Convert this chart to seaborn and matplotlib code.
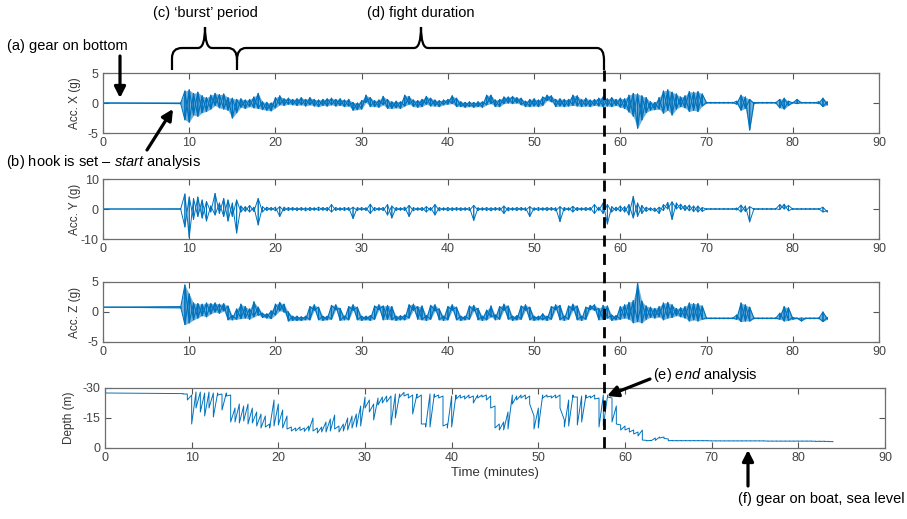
import matplotlib
matplotlib.use("Agg")
import matplotlib.pyplot as plt
import pandas as pd
import seaborn as sns
from matplotlib.lines import Line2D
from matplotlib.patches import FancyArrowPatch, PathPatch
from matplotlib.path import Path

sns.set_style("ticks")
plt.rcParams['font.family'] = ['Liberation Sans', 'DejaVu Sans']
plt.rcParams['mathtext.fontset'] = 'custom'
plt.rcParams['mathtext.rm'] = 'Liberation Sans'
plt.rcParams['mathtext.it'] = 'Liberation Sans:italic'
plt.rcParams['axes.unicode_minus'] = False

BLUE = '#0072BD'
W, H = 907, 519

# time of each half-minute bin (minutes); per bin the min/max
TIME = [0.0,
        9.0, 9.5, 10.0, 10.5, 11.0, 11.5, 12.0, 12.5, 13.0, 13.5,
        14.0, 14.5, 15.0, 15.5, 16.0, 16.5, 17.0, 17.5, 18.0, 18.5,
        19.0, 19.5, 20.0, 20.5, 21.0, 21.5, 22.0, 22.5, 23.0, 23.5,
        24.0, 24.5, 25.0, 25.5, 26.0, 26.5, 27.0, 27.5, 28.0, 28.5,
        29.0, 29.5, 30.0, 30.5, 31.0, 31.5, 32.0, 32.5, 33.0, 33.5,
        34.0, 34.5, 35.0, 35.5, 36.0, 36.5, 37.0, 37.5, 38.0, 38.5,
        39.0, 39.5, 40.0, 40.5, 41.0, 41.5, 42.0, 42.5, 43.0, 43.5,
        44.0, 44.5, 45.0, 45.5, 46.0, 46.5, 47.0, 47.5, 48.0, 48.5,
        49.0, 49.5, 50.0, 50.5, 51.0, 51.5, 52.0, 52.5, 53.0, 53.5,
        54.0, 54.5, 55.0, 55.5, 56.0, 56.5, 57.0, 57.5, 58.0, 58.5,
        59.0, 59.5, 60.0, 60.5, 61.0, 61.5, 62.0, 62.5, 63.0, 63.5,
        64.0, 64.5, 65.0, 65.5, 66.0, 66.5, 67.0, 67.5, 68.0, 68.5,
        69.0, 69.5, 70.0, 70.5, 71.0, 71.5, 72.0, 72.5, 73.0, 73.5,
        74.0, 74.5, 75.0, 75.5, 76.0, 76.5, 77.0, 77.5, 78.0, 78.5,
        79.0, 79.5, 80.0, 80.5, 81.0, 81.5, 82.0, 82.5, 83.0, 83.5,
        84.0]

ACC_X_LO = [0.0,
            -0.1, -2.8, -3.2, -2.0, -2.2, -1.6, -1.4, -1.0, -0.4, -0.8,
            -1.0, -1.2, -2.5, -1.6, -0.7, -0.9, -0.6, -0.8, -0.9, -1.1,
            -1.2, -1.3, -0.8, -0.3, -0.4, -0.2, -0.3, -0.4, -0.3, -0.5,
            -0.3, -0.5, -0.6, -0.4, -0.5, -0.3, -0.5, -0.4, -0.6, -0.5,
            -1.2, -1.1, -1.0, 0.1, -0.6, -0.6, -0.7, -0.3, -0.9, -0.9,
            -0.8, -0.9, -0.5, -0.2, -0.6, -0.7, -0.6, -0.2, -0.5, -0.5,
            -0.6, -0.3, -0.2, -0.1, -0.6, -0.6, -0.7, -0.6, -0.7, -0.6,
            -0.7, -0.3, -0.1, -0.6, -0.6, -0.1, 0.0, -0.1, 0.0, -0.3,
            -0.6, -0.6, -0.5, -0.6, -0.4, 0.4, 0.2, -0.6, -0.5, -0.6,
            -0.5, -0.4, -0.5, -0.6, -0.5, -0.6, -0.4, -0.5, -0.6, -0.5,
            -0.6, -0.4, -0.7, -0.9, -1.5, -2.2, -4.2, -2.8, -1.6, -1.2,
            -1.1, -1.0, -1.7, -1.2, -2.0, -1.0, -0.6, -0.8, -1.4, -1.2,
            -1.4, -0.5, 0.0, 0.0, 0.0, 0.0, 0.0, 0.0, 0.0, -0.2,
            -1.2, -0.9, -4.5, -0.1, 0.0, 0.0, 0.0, 0.0, 0.0, -0.8,
            -1.0, -0.4, 0.0, -0.1, 0.0, 0.0, 0.0, 0.0, -0.1, -0.6,
            -0.3]
ACC_X_HI = [0.0,
            0.0, 2.0, 2.2, 1.6, 1.8, 1.2, 0.9, 1.3, 1.6, 1.4,
            1.5, 0.9, 0.8, 0.6, 0.7, 0.5, 0.6, 1.0, 1.6, 0.2,
            0.1, 0.0, 0.9, 1.2, 0.7, 0.8, 0.6, 0.7, 0.9, 0.6,
            0.9, 0.6, 0.5, 0.6, 0.7, 0.8, 0.6, 0.7, 0.5, 0.6,
            0.1, 0.0, 0.4, 1.3, 0.9, 0.4, 0.5, 1.1, 0.6, 0.2,
            0.3, 0.2, 1.3, 1.1, 0.5, 0.4, 0.6, 1.1, 0.8, 0.5,
            0.4, 0.5, 0.6, 1.2, 0.8, 0.2, 0.1, 0.2, 0.1, 0.2,
            0.2, 1.3, 1.3, 0.5, 0.6, 1.0, 1.0, 1.1, 0.9, 0.8,
            0.3, 0.6, 0.7, 0.5, 1.0, 1.3, 1.2, 0.6, 0.7, 0.6,
            0.6, 1.3, 1.2, 0.6, 0.8, 0.5, 0.6, 0.8, 1.0, 0.7,
            0.9, 0.6, 0.8, 0.7, 1.3, 1.6, 1.5, 1.2, 0.9, 0.2,
            0.1, 0.9, 2.0, 2.2, 1.8, 1.5, 1.0, 1.2, 1.9, 1.8,
            1.9, 1.5, 0.1, 0.1, 0.1, 0.1, 0.1, 0.1, 0.1, 0.3,
            1.3, 1.0, 0.6, 0.1, 0.1, 0.1, 0.1, 0.1, 0.1, 0.6,
            0.8, 0.3, 0.1, 0.6, 0.1, 0.1, 0.1, 0.1, 0.2, 0.8,
            0.2]

ACC_Y_LO = [0.0,
            -0.1, -6.0, -9.5, -3.5, -2.5, -3.0, -4.0, -1.0, -2.0, -1.5,
            -2.5, -4.0, -2.5, -8.0, -1.0, -0.8, -1.0, -0.8, -5.3, -1.0,
            -0.5, -0.4, -0.6, -2.5, -0.6, -0.5, -0.4, -0.5, -0.4, -0.6,
            -0.5, -0.4, -0.5, -0.4, -0.6, -1.0, -0.5, -0.4, -0.5, -0.4,
            -3.2, -0.5, -0.4, -0.5, -1.5, -0.6, -0.4, -0.5, -2.0, -3.0,
            -0.5, -0.4, -0.5, -2.5, -0.6, -0.4, -0.5, -1.0, -0.5, -2.0,
            -0.6, -0.4, -0.6, -0.5, -0.4, -0.5, -0.4, -0.5, -3.8, -0.5,
            -0.4, -0.5, -0.6, -0.4, -0.5, -1.5, -0.6, -0.4, -0.5, -0.4,
            -0.5, -2.5, -0.4, -0.5, -0.4, -0.5, -0.4, -0.6, -4.2, -0.5,
            -0.4, -1.0, -0.5, -0.4, -0.5, -0.4, -1.5, -0.5, -1.5, -5.0,
            -1.0, -0.6, -0.8, -1.0, -2.0, -3.0, -2.5, -1.5, -0.8, -0.5,
            -0.8, -1.5, -0.5, 0.0, -3.5, 0.0, -0.2, -0.5, -0.6, -0.9,
            -1.0, -0.8, -0.1, -0.1, -0.1, -0.1, -0.1, -0.1, -0.1, -0.3,
            -1.0, -0.8, -4.3, -0.1, -0.1, -0.1, -0.1, -0.1, -0.1, -0.2,
            0.0, -0.6, -0.1, -0.1, -0.1, -0.1, -0.1, -0.1, -0.1, -1.0,
            -1.0]
ACC_Y_HI = [0.0,
            0.1, 5.0, 4.0, 3.5, 4.0, 3.0, 2.5, 1.0, 5.2, 2.0,
            3.5, 3.0, 2.0, 3.0, 1.0, 0.8, 1.2, 0.6, 3.5, 0.8,
            0.6, 0.5, 0.6, 0.8, 0.6, 0.5, 0.5, 0.4, 0.5, 0.4,
            0.5, 0.4, 0.6, 0.5, 0.5, 1.5, 0.5, 0.4, 0.5, 0.5,
            0.6, 0.5, 0.5, 0.4, 1.6, 0.5, 0.4, 0.5, 1.5, 1.0,
            0.5, 0.4, 0.6, 1.2, 0.5, 0.4, 0.5, 0.8, 0.5, 1.5,
            0.5, 0.4, 0.5, 0.4, 0.5, 0.4, 0.4, 0.5, 1.2, 0.4,
            0.4, 0.5, 0.4, 0.5, 0.5, 1.0, 0.5, 0.4, 0.5, 0.5,
            0.4, 0.8, 0.4, 0.5, 0.4, 0.5, 0.5, 0.4, 0.8, 0.5,
            0.4, 0.9, 0.5, 0.4, 0.5, 0.5, 1.5, 0.6, 2.0, 1.5,
            0.8, 0.6, 1.0, 0.8, 1.5, 4.2, 2.0, 1.2, 0.6, 0.4,
            0.3, 0.6, 1.5, 2.2, 2.4, 2.0, 1.6, 1.2, 1.3, 1.0,
            1.0, 0.5, 0.1, 0.1, 0.1, 0.1, 0.1, 0.1, 0.1, 0.3,
            1.3, 1.0, 0.8, 0.1, 0.1, 0.1, 0.1, 0.1, 0.1, 1.5,
            1.6, 1.2, 0.1, 0.1, 0.1, 0.1, 0.1, 0.1, 0.1, 0.6,
            -0.5]

ACC_Z_LO = [0.8,
            0.7, -2.1, -1.8, -1.3, -1.0, -0.6, -0.8, -0.3, 0.0, -0.2,
            0.2, -1.3, -1.3, -1.2, -1.1, -1.0, -1.2, -0.8, -0.5, -0.9,
            -1.0, -1.1, -0.5, 0.2, 0.0, -1.5, -1.4, -1.4, -1.4, -1.3,
            -1.3, 0.3, -1.3, -1.4, -1.3, -1.2, 0.4, -1.4, -1.3, -1.3,
            0.3, -1.3, -1.4, -1.3, -1.4, -1.2, 0.4, -1.3, -1.2, -1.3,
            -1.4, -1.3, -1.3, -1.0, 0.3, -1.2, -1.3, -1.4, -1.2, 0.2,
            -1.3, -1.4, -1.3, 0.3, -1.3, -1.4, -1.3, -1.2, 0.2, -1.3,
            -1.4, -1.3, -0.8, -1.3, -1.2, 0.3, -1.2, -1.4, -1.3, -1.2,
            0.3, -1.3, -1.4, -1.3, -1.3, -1.4, -1.2, 0.4, -1.3, -1.4,
            -1.2, 0.3, -1.3, -1.4, -1.2, 0.4, 0.3, -1.3, -1.2, -1.0,
            -1.4, -1.3, -1.2, -1.0, -1.2, -1.8, -1.6, -1.8, -1.2, -0.9,
            -1.0, -0.8, -1.3, -1.0, -0.9, -0.6, -0.8, -1.0, -1.5, -1.3,
            -1.5, -1.2, -1.1, -1.1, -1.1, -1.1, -1.1, -1.1, -1.1, -1.2,
            -1.6, -1.5, -1.5, -1.1, -1.1, -1.1, -1.1, -1.1, -1.1, -1.2,
            -1.5, -1.4, -1.2, -1.1, -1.5, -1.1, -1.1, -1.1, -1.1, -1.6,
            -1.2]
ACC_Z_HI = [0.8,
            0.9, 4.5, 3.0, 1.5, 1.4, 1.3, 1.5, 1.4, 1.5, 1.3,
            1.4, 1.0, -0.6, 0.5, 1.3, 0.9, 0.5, 1.7, 0.8, -0.2,
            -0.3, 0.2, 1.3, 1.6, 1.3, 0.0, -0.7, -0.7, -0.8, -0.7,
            0.9, 1.2, 0.8, -0.7, -0.7, 1.1, 1.2, 0.6, -0.7, 0.9,
            1.2, 0.8, -0.7, -0.7, -0.6, 1.0, 1.2, 1.0, 1.1, 0.9,
            -0.7, -0.6, -0.5, 1.2, 1.3, 0.9, 1.0, -0.6, 1.1, 1.2,
            0.5, -0.7, 0.9, 1.2, 0.8, -0.7, -0.7, 1.0, 1.1, 0.6,
            -0.7, 0.3, 1.0, -0.5, 0.9, 1.3, 1.0, -0.7, -0.6, 1.0,
            1.2, 0.8, -0.7, -0.7, -0.3, -0.7, 0.9, 1.2, 1.1, -0.7,
            1.0, 1.3, 1.0, -0.7, 0.8, 1.1, 1.2, 0.6, 1.1, 1.0,
            -0.5, -0.6, 0.9, 1.2, 1.6, 1.9, 4.8, 1.8, 1.0, 0.8,
            0.6, 0.9, 1.5, 1.6, 1.2, 0.6, 0.7, 0.9, 1.5, 1.4,
            1.4, 1.0, -1.0, -1.0, -1.0, -1.0, -1.0, -1.0, -1.0, -0.5,
            1.5, 1.2, 0.8, -1.0, -1.0, -1.0, -1.0, -1.0, -1.0, -0.2,
            0.9, 0.7, -0.9, -1.0, -1.0, -1.0, -1.0, -1.0, -1.0, 0.0,
            -0.9]

DEPTH_LO = [-27.5,
            -27.2, -27.0, -26.5, -28.0, -28.0, -27.5, -28.0, -27.5, -27.5, -27.0,
            -27.5, -26.5, -20.0, -22.0, -21.0, -22.0, -20.0, -18.0, -17.0, -16.0,
            -12.0, -24.0, -22.0, -19.0, -16.0, -10.5, -10.0, -10.5, -10.0, -11.0,
            -15.0, -10.0, -10.5, -13.0, -14.5, -16.5, -11.0, -12.0, -15.0, -16.0,
            -17.0, -21.0, -25.5, -24.0, -22.0, -25.0, -25.5, -26.0, -26.0, -27.0,
            -27.0, -27.8, -27.0, -26.5, -27.0, -26.5, -12.0, -27.0, -27.0, -26.5,
            -26.0, -12.0, -26.0, -26.5, -26.5, -26.0, -26.5, -26.0, -26.5, -26.5,
            -26.5, -26.0, -21.0, -12.0, -13.0, -18.0, -26.5, -26.0, -26.5, -26.5,
            -26.0, -16.0, -20.0, -26.5, -26.5, -26.0, -26.5, -26.5, -14.0, -24.0,
            -26.5, -25.5, -26.0, -26.5, -26.0, -26.5, -25.0, -26.5, -26.5, -25.0,
            -21.0, -11.5, -11.0, -10.0, -9.0, -8.0, -9.0, -3.8, -3.8, -5.0,
            -5.5, -5.5, -4.5, -3.8, -3.7, -3.7, -3.7, -3.7, -3.7, -3.7,
            -3.7, -3.7, -3.6, -3.6, -3.6, -3.6, -3.6, -3.6, -3.6, -3.6,
            -3.6, -3.6, -3.6, -3.6, -3.6, -3.5, -3.5, -3.5, -3.5, -3.5,
            -3.5, -3.5, -3.5, -3.5, -3.5, -3.5, -3.4, -3.4, -3.4, -3.3,
            -3.2]
DEPTH_HI = [-27.5,
            -27.0, -24.0, -12.0, -20.0, -18.0, -16.0, -20.0, -15.5, -26.5, -19.0,
            -26.0, -13.0, -13.0, -12.5, -13.5, -12.0, -12.5, -11.0, -10.0, -10.5,
            -10.0, -11.0, -11.5, -10.0, -9.5, -8.5, -8.5, -8.8, -8.3, -8.5,
            -8.5, -7.5, -8.0, -8.0, -8.5, -9.5, -8.0, -8.5, -9.0, -10.0,
            -10.5, -11.0, -20.0, -18.0, -14.0, -21.5, -22.5, -23.0, -11.5, -15.0,
            -25.5, -26.0, -25.0, -17.0, -25.0, -12.0, -10.5, -10.5, -25.5, -25.0,
            -11.0, -10.0, -10.5, -24.5, -25.0, -24.5, -25.0, -22.5, -25.0, -25.5,
            -24.0, -20.0, -10.0, -9.0, -9.0, -9.5, -22.0, -24.0, -25.0, -24.5,
            -22.0, -9.5, -10.0, -25.0, -25.5, -25.0, -25.0, -20.0, -10.5, -11.0,
            -25.5, -11.5, -13.0, -25.0, -25.0, -24.5, -10.5, -11.0, -25.5, -13.0,
            -12.0, -9.0, -9.0, -8.0, -7.0, -6.0, -4.0, -3.6, -3.6, -3.8,
            -5.0, -4.8, -3.6, -3.6, -3.6, -3.6, -3.6, -3.6, -3.6, -3.6,
            -3.6, -3.6, -3.5, -3.5, -3.5, -3.5, -3.5, -3.5, -3.5, -3.5,
            -3.5, -3.5, -3.5, -3.5, -3.5, -3.4, -3.4, -3.4, -3.4, -3.4,
            -3.4, -3.4, -3.4, -3.4, -3.4, -3.4, -3.3, -3.3, -3.3, -3.2,
            -3.1]

X_TICKS = [0, 10, 20, 30, 40, 50, 60, 70, 80, 90]


def px(x, y):
    # figure pixel (from top-left) -> figure fraction
    return x / W, 1 - y / H


def trace(ax, lo, hi, both=True, lw=0.8, fill=0.0):
    # min/max per bin drawn as saw-tooth lines, like a dense logger trace;
    # two opposite passes make the band look filled the way the raw data does
    if fill:
        ax.fill_between(TIME, lo, hi, color=BLUE, alpha=fill, lw=0)
    orders = [(0, 1), (1, 0)] if both else [(0, 1)]
    for order in orders:
        t2, v2 = [], []
        for t, a, b in zip(TIME, lo, hi):
            pair = (a, b)
            t2 += [t, t]
            v2 += [pair[order[0]], pair[order[1]]]
        df = pd.DataFrame({'t': t2, 'v': v2})
        sns.lineplot(data=df, x='t', y='v', ax=ax, estimator=None, sort=False,
                     color=BLUE, lw=lw)


def style_axis(ax, ylim, yticks, ylabel, lab_x):
    ax.set_xlim(0, 90)
    ax.set_ylim(*ylim)
    ax.set_xticks(X_TICKS)
    ax.set_yticks(yticks)
    ax.set_xlabel('')
    ax.set_ylabel(ylabel, fontsize=8.5, color='#333333')
    ax.yaxis.set_label_coords(lab_x, 0.5)
    ax.tick_params(direction='in', top=True, right=True, length=4, width=0.8,
                   color='#555555', labelcolor='#444444', labelsize=9, pad=3)
    for s in ax.spines.values():
        s.set_color('#6e6e6e')
        s.set_linewidth(0.9)


fig = plt.figure(figsize=(W / 100, H / 100), dpi=100)
ax_x = fig.add_axes([103 / W, 1 - 133 / H, 776 / W, 60 / H])
ax_y = fig.add_axes([103 / W, 1 - 239 / H, 776 / W, 60 / H])
ax_z = fig.add_axes([103 / W, 1 - 342 / H, 776 / W, 60 / H])
ax_d = fig.add_axes([105 / W, 1 - 448 / H, 780 / W, 60 / H])

trace(ax_x, ACC_X_LO, ACC_X_HI, fill=0.55)
trace(ax_y, ACC_Y_LO, ACC_Y_HI, lw=0.7)
trace(ax_z, ACC_Z_LO, ACC_Z_HI, fill=0.55)
trace(ax_d, DEPTH_LO, DEPTH_HI, both=False, lw=0.7)

style_axis(ax_x, (-5, 5), [-5, 0, 5], 'Acc. X (g)', -0.028)
style_axis(ax_y, (-10, 10), [-10, 0, 10], 'Acc. Y (g)', -0.028)
style_axis(ax_z, (-5, 5), [-5, 0, 5], 'Acc. Z (g)', -0.028)
style_axis(ax_d, (0, -30), [-30, -15, 0], 'Depth (m)', -0.038)
ax_d.set_xlabel('Time (minutes)', fontsize=9.5, color='#333333', labelpad=2)

# dashed "end of fight" line across all panels
fig.add_artist(Line2D([604 / W, 604 / W], [1 - 70 / H, 1 - 448 / H],
                      transform=fig.transFigure, color='black', lw=2.0,
                      ls=(0, (4, 2.6))))

# curly braces for burst period and fight duration
brace_pts = [
    (Path.MOVETO, (172, 70)), (Path.LINETO, (172, 58)),
    (Path.CURVE3, (172, 48)), (Path.CURVE3, (182, 48)),
    (Path.LINETO, (198, 48)),
    (Path.CURVE3, (205, 48)), (Path.CURVE3, (205, 27)),
    (Path.CURVE3, (205, 48)), (Path.CURVE3, (212, 48)),
    (Path.LINETO, (228, 48)),
    (Path.CURVE3, (237, 48)), (Path.CURVE3, (237, 60)),
    (Path.LINETO, (237, 70)),
    (Path.MOVETO, (237, 60)),
    (Path.CURVE3, (237, 48)), (Path.CURVE3, (246, 48)),
    (Path.LINETO, (414, 48)),
    (Path.CURVE3, (421, 48)), (Path.CURVE3, (421, 27)),
    (Path.CURVE3, (421, 48)), (Path.CURVE3, (428, 48)),
    (Path.LINETO, (597, 48)),
    (Path.CURVE3, (604, 48)), (Path.CURVE3, (604, 60)),
    (Path.LINETO, (604, 70)),
]
codes = [c for c, _ in brace_pts]
verts = [px(*p) for _, p in brace_pts]
fig.add_artist(PathPatch(Path(verts, codes), transform=fig.transFigure,
                         facecolor='none', edgecolor='black', lw=1.6))

txt = dict(fontsize=10.5, color='black', va='center')
fig.text(*px(205, 13), "(c) \u2018burst\u2019 period", ha='center', **txt)
fig.text(*px(421, 13), "(d) fight duration", ha='center', **txt)
fig.text(*px(7, 46), "(a) gear on bottom", ha='left', **txt)
fig.text(*px(6, 162), "(b) hook is set \u2013 $\\mathit{start}$ analysis", ha='left', **txt)
fig.text(*px(653, 375), "(e) $\\mathit{end}$ analysis", ha='left', **txt)
fig.text(*px(738, 499), "(f) gear on boat, sea level", ha='left', **txt)

arrow_style = "-|>,head_length=0.65,head_width=0.33"
for tail, head in [((120, 56), (120, 98)), ((147, 150), (173, 109)),
                   ((650, 379), (607, 396)), ((748, 486), (748, 450))]:
    fig.add_artist(FancyArrowPatch(px(*tail), px(*head), transform=fig.transFigure,
                                   arrowstyle=arrow_style, mutation_scale=10,
                                   lw=2.3, color='black', shrinkA=0, shrinkB=0))

fig.savefig('out.png', dpi=100, facecolor='white')
